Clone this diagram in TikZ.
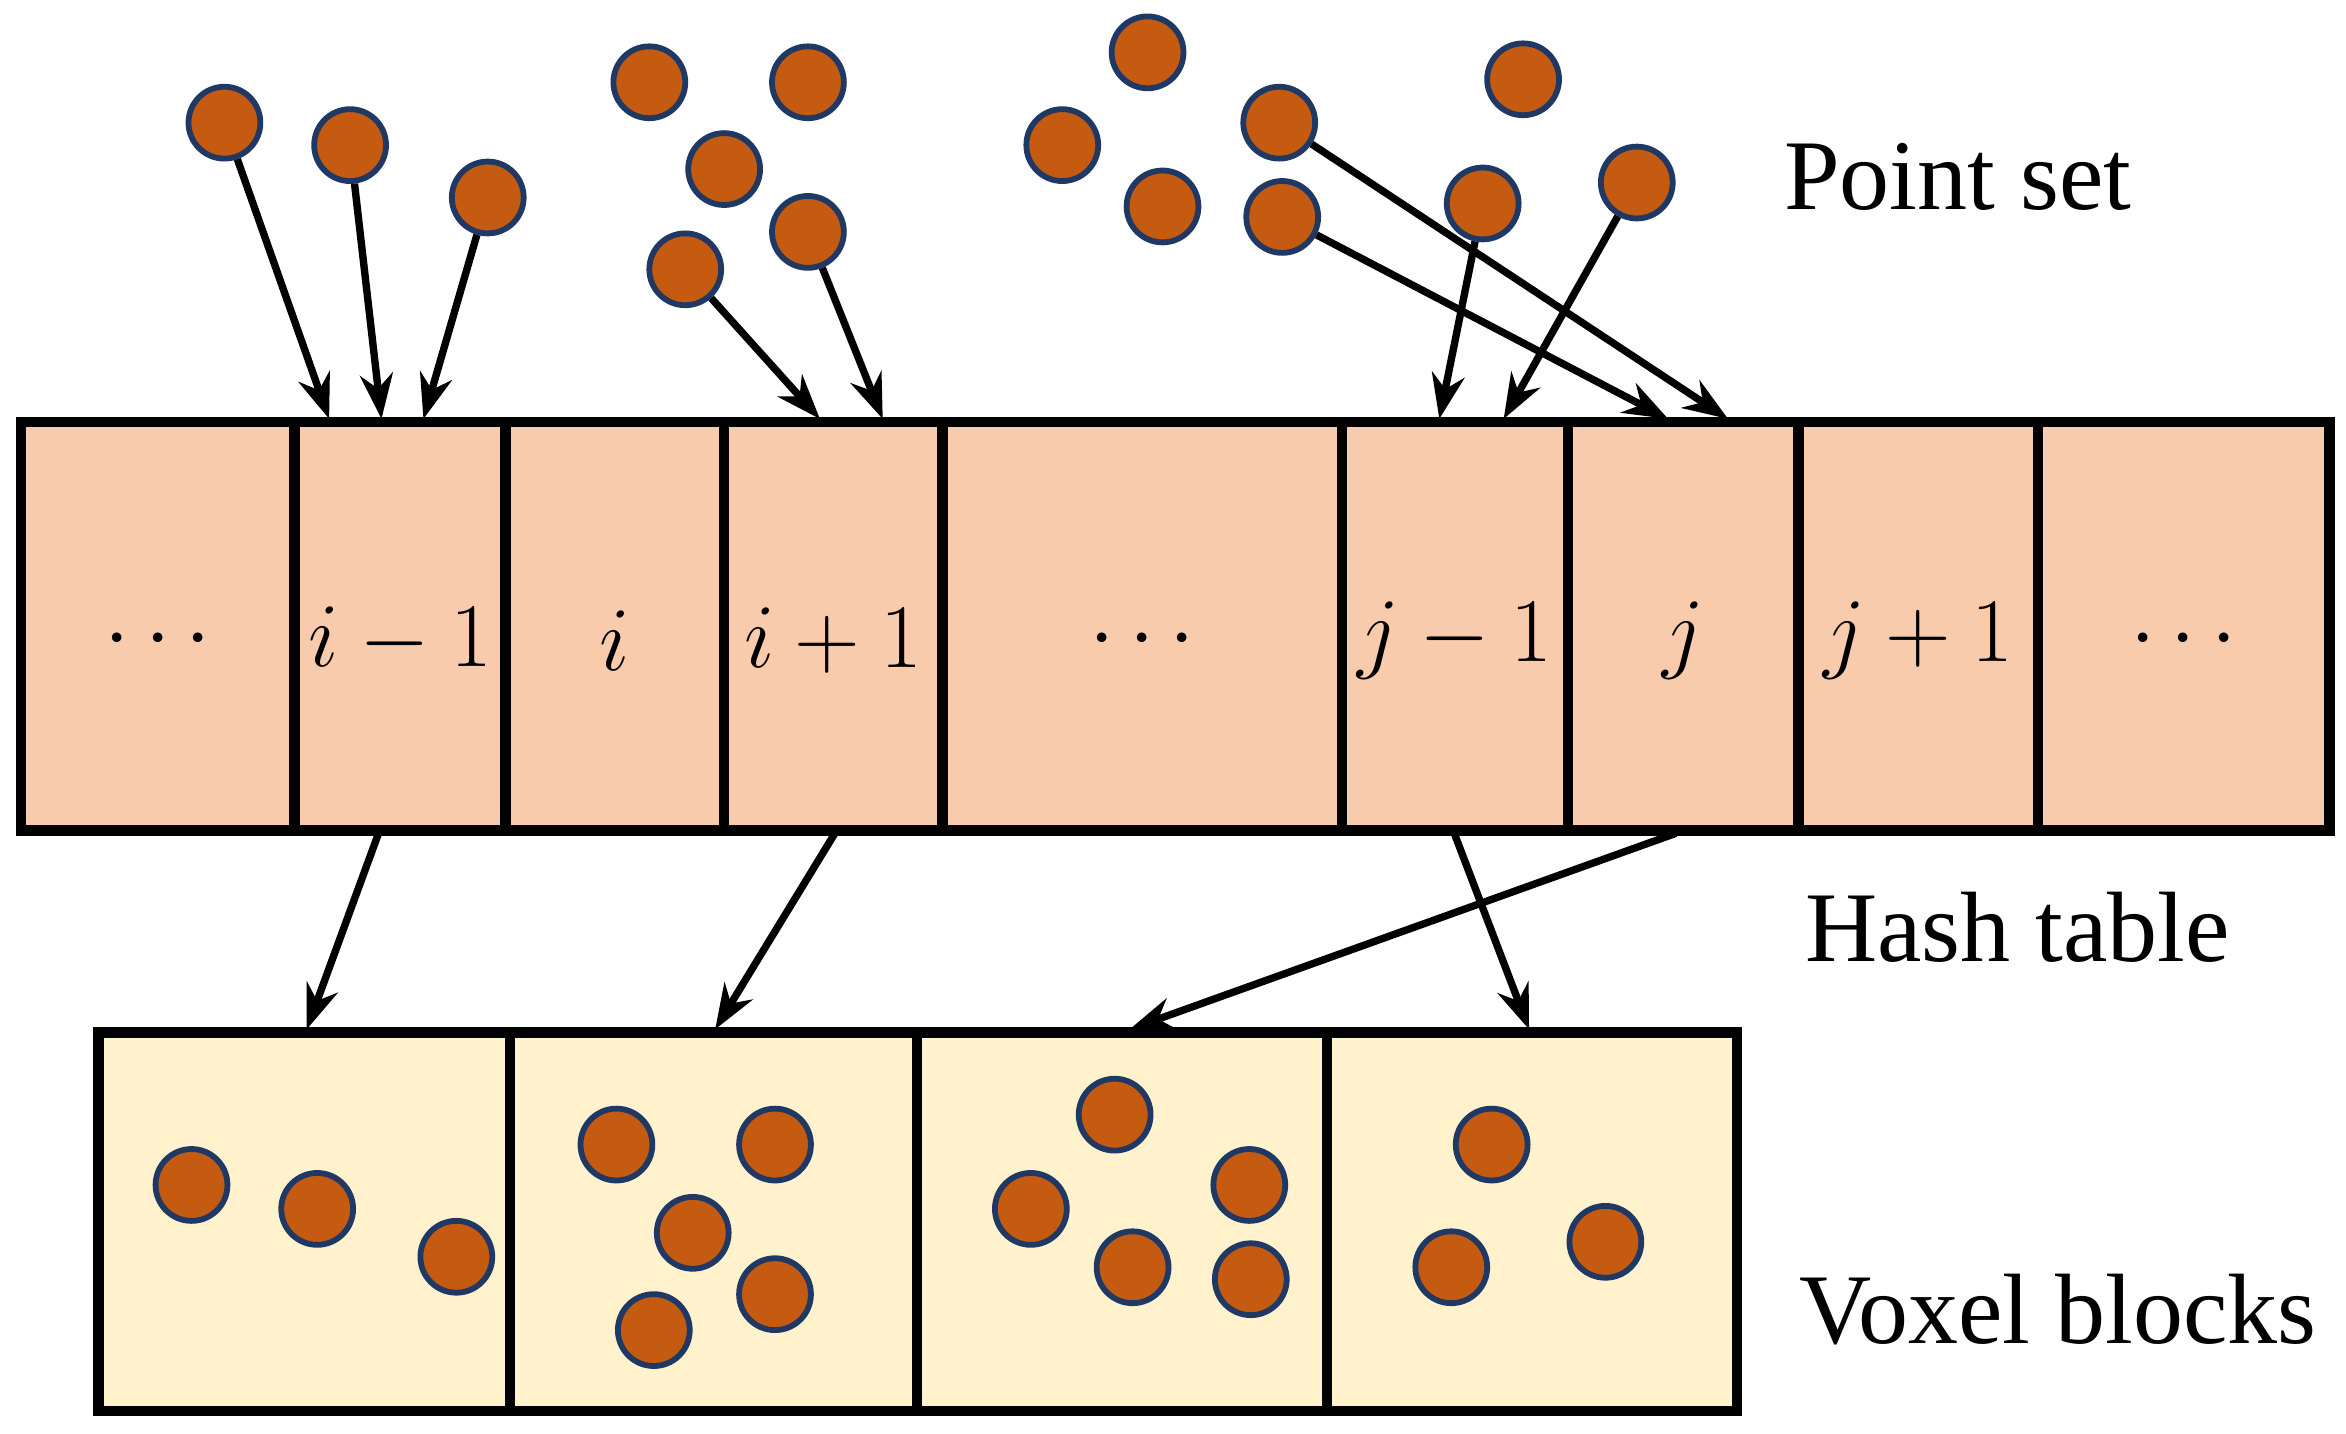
\documentclass[tikz,border=0pt]{standalone}
\usepackage{fontspec}
\setmainfont{Liberation Serif}
\usetikzlibrary{arrows.meta}
\definecolor{dotfill}{HTML}{C55A11}
\definecolor{dotline}{HTML}{1F3864}
\definecolor{cellfill}{HTML}{F8CBAD}
\definecolor{voxfill}{HTML}{FFF2CC}
\tikzset{
  dot/.style={circle, fill=dotfill, draw=dotline, line width=1.1pt, minimum size=0.48cm, inner sep=0pt},
  cell/.style={draw=black, line width=2pt, fill=cellfill},
  vox/.style={draw=black, line width=2pt, fill=voxfill},
  link/.style={-{Stealth[length=0.3cm,width=0.22cm]}, line width=1.4pt},
  lbl/.style={font=\fontsize{18}{22}\selectfont},
  caption/.style={font=\fontsize{19}{23}\selectfont, anchor=west}
}
\begin{document}
\begin{tikzpicture}[x=0.01cm,y=-0.01cm]
  \useasboundingbox (0,0) rectangle (1568,958);

  % Hash table
  \foreach \xa/\xb/\t [count=\n] in {14/197/$\cdots$, 197/338/$i-1$, 338/484/$i$, 484/630/$i+1$,
      630/897/$\cdots$, 897/1048/$j-1$, 1048/1202/$j$, 1202/1362/$j+1$, 1362/1557/$\cdots$} {
    \draw[cell] (\xa,282) rectangle (\xb,555);
    \node[lbl] (h\n) at ({(\xa+\xb)/2},428) {\t};
  }

  % Voxel blocks
  \foreach \xa/\xb [count=\n] in {66/341, 341/613, 613/887, 887/1161} {
    \draw[vox] (\xa,690) rectangle (\xb,943);
  }

  % Point set
  \foreach \x/\y [count=\n] in {150/82, 234/97, 326/132, 458/180, 540/155, 855/82, 857/145, 991/136,
      1094/122, 434/55, 540/55, 484/113, 767/35, 1018/53, 710/97, 777/138} {
    \node[dot] (p\n) at (\x,\y) {};
  }

  % Points in blocks
  \foreach \x/\y in {128/792, 212/808, 305/840, 412/765, 518/765, 463/824, 518/865, 437/889,
      745/745, 689/808, 835/792, 757/847, 836/855, 997/765, 970/847, 1073/830} {
    \node[dot] at (\x,\y) {};
  }

  % Arrow ends
  \foreach \x/\y [count=\n] in {220/280, 255/280, 283/280, 548/280, 590/280, 1155/280, 1115/280,
      962/280, 1005/280} {
    \coordinate (t\n) at (\x,\y);
  }
  \foreach \n in {1,...,9} {
    \draw[link] (p\n) -- (t\n);
  }

  \coordinate (s1) at (253,557);  \coordinate (e1) at (205,688);
  \coordinate (s2) at (558,557);  \coordinate (e2) at (478,688);
  \coordinate (s3) at (1120,557); \coordinate (e3) at (755,688);
  \coordinate (s4) at (972,557);  \coordinate (e4) at (1022,688);
  \foreach \n in {1,...,4} {
    \draw[link] (s\n) -- (e\n);
  }

  % Captions
  \node[caption] (pset) at (1180,118) {Point set};
  \node[caption] (htab) at (1194,620) {Hash table};
  \node[caption] (vblk) at (1190,875) {Voxel blocks};
\end{tikzpicture}
\end{document}
